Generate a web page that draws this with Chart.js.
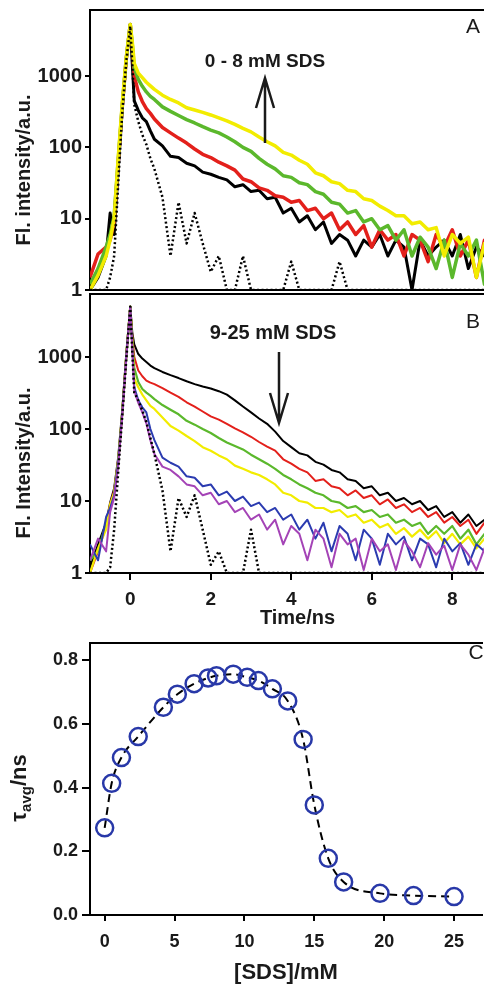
<!DOCTYPE html>
<html>
<head>
<meta charset="utf-8">
<script src="https://cdn.jsdelivr.net/npm/chart.js@4.4.0/dist/chart.umd.min.js"></script>
<style>
html, body { margin: 0; padding: 0; background: #fff; overflow: hidden; }
body { width: 484px; height: 984px; position: relative; }
canvas { position: absolute; left: 0; }
</style>
</head>
<body>
<canvas id="chartB" width="505" height="340" style="top:292px"></canvas>
<canvas id="chartA" width="505" height="300" style="top:0px"></canvas>
<canvas id="chartC" width="493" height="352" style="top:632px"></canvas>
<script>
// time axis shared by the decay curves (ns)
const times = [-1.0,-0.8,-0.6,-0.5,-0.4,-0.3,-0.2,-0.1,
  0,0.05,0.1,0.2,0.3,0.4,0.5,0.6,
  0.8,1.0,1.2,1.4,1.6,1.8,2.0,2.2,2.4,2.6,2.8,3.0,3.2,3.4,3.6,3.8,4.0,4.2,4.4,4.6,
  4.8,5.0,5.2,5.4,5.6,5.8,6.0,6.2,6.4,6.6,6.8,7.0,7.2,7.4,7.6,7.8,8.0,8.2,8.4,8.6,8.8,9.0,9.2];

// panel A : 0 - 8 mM SDS
const irfA = [1,1,1,1.5,3,30,300,1600, 5000,1500,400,230,150,110,70,50,
  20,3,17,4.5,12,4.5,1.8,3,1,1, 3,1,1,1,1,1,2.5,1,1,1, 1,1,2.5,1,1,1,1,1,1,1, 1,1,1,1,1,1,1,1,1,1, 1,1,1];
const blackA = [1,1.5,3,12,6,50,340,1700, 5300,1500,450,330,260,230,170,130,
  105,75,72,60,55,45,42,38,35,28, 30,24,25,19,20,12,14,9,11,7, 9,4.5,6,5,3,5,4,6,3,5, 4,1,5,3,4,5,3,6,2,4, 3,5,2];
const redA = [1.5,3.2,4,5,9,60,360,1700, 5300,2500,1000,600,440,350,300,250,
  190,160,135,115,95,80,72,62,55,48, 36,33,27,25,21,20,17,18,13,14, 10,12,7,9,6,8,4,7,5,6, 3,6,5,2.5,6,4,7,3,5,1.5, 5,3,4];
const greenA = [1.2,2,4,6,11,65,380,1750, 5300,2800,1300,900,720,600,520,470,
  370,320,280,245,220,195,175,160,140,120, 100,88,70,58,50,40,38,32,30,24, 22,17,16,12,13,9,10,7,8,5, 7,3,5.5,4,2,5,1.5,4.5,3,5, 1.2,4,2.5];
const yellowA = [1,1.6,3,5,10,70,400,1800, 5300,3000,1500,1100,950,820,730,650,
  540,470,420,360,335,310,285,260,235,210, 185,165,140,120,105,85,78,66,58,44, 40,33,31,25,24,19,18,15,13,11, 11,8.5,9,7,7.5,3,6,4.5,5.5,1.5, 4.5,2,4];

// panel B : 9 - 25 mM SDS
const irfB = [1,1,1,1.2,4,25,150,900, 5000,1200,320,250,180,125,75,45,
  14,2,11,6,12,4,1.3,2,1,1, 1,4,1,1,1,1,1,1,1,1, 1,1,1,1,1,1,1,1,1,1, 1,1,1,1,1,1,1,1,1,1, 1,1,1];
const blackB = [1.2,2.5,5,9.5,15,40,180,1100, 5000,2200,1500,1100,950,850,760,700,
  620,560,510,460,420,390,365,335,300,250, 205,170,140,118,92,68,56,46,43,35, 32,27,25,20,19,15,16,12,13,10, 11,9,10,7.5,8.5,6,7,5,6.5,4.5, 5.5,4,4.5];
const redB = [1,2,4.5,9,14,38,170,1050, 5000,2000,1000,650,540,470,440,420,
  370,320,280,235,205,175,150,135,118,102, 90,78,66,57,50,38,33,28,25,19, 20,16,15,12,14,11,12,9,10.5,8, 9,7,8,6,7,5,6,4.5,5.5,3.5, 5,3.5,4];
const greenB = [1.5,2,5,8,13,36,165,1000, 5000,1800,700,450,360,320,290,260,
  215,185,160,130,115,100,88,75,65,58, 52,44,38,33,28,23,20,17,15,13, 12,10,9.5,8,8.5,7,7.5,6,6.5,5, 5.5,4.5,5,3.5,4.5,3.5,4.5,3,4,2.5, 3.5,2.5,3];
const yellowB = [1,2.2,4,9,13,35,160,1000, 5000,1500,500,380,300,250,210,190,
  145,110,95,80,68,56,50,43,38,31, 28,25,23,20,17,13,12,10,9.5,8, 8,7,7.5,6,6.5,5,5.5,4.3,4.8,3.5, 4.2,3.2,4,3,3.8,2.6,3.5,2.5,3.2,2.2, 3,2.2,2.8];
const blueB = [2.5,1.5,6,8,12,35,160,1000, 5000,1400,380,250,200,170,100,70,
  40,34,30,22,21,16,17,12,13.5,10, 11.5,8.5,9.5,7,8,5.5,6.5,4,5.5,3, 5,2,4.5,3.5,1.5,4,3,1.3,3.5,2.5, 3.2,1.5,3,2.5,1.2,3,2,2.6,1.3,2.5, 2,2.4,1.5];
const purpleB = [1.5,3,2,7,11,30,150,950, 5000,1300,340,230,170,120,70,45,
  30,27,22,17,16,12,13,9,10,7, 8,5.5,6.5,4,5.5,2.5,4.5,3.5,1.5,4, 3,1.2,3.5,2.5,3,1.1,3,2,2.5,1.1, 2.8,2,1.2,2.6,1.8,2.4,1.1,2.5,1.8,1.1, 2.2,1.6,2];

// panel C : average lifetime vs [SDS]
const sds = [0,0.5,1.2,2.4,4.2,5.2,6.4,7.4,8,9.2,10.2,11,12,13.1,14.2,15,16,17.1,19.7,22.1,25];
const tau = [0.274,0.414,0.495,0.561,0.653,0.694,0.727,0.745,0.752,0.757,0.747,0.737,0.711,0.673,0.552,0.346,0.178,0.104,0.068,0.061,0.058];

const logTicks = [1,10,100,1000];
const timeTicks = [0,2,4,6,8];
const sdsTicks = [0,5,10,15,20,25];
const tauTicks = [0,0.2,0.4,0.6,0.8];

const FONT = '"Liberation Sans", Arial, sans-serif';
Chart.defaults.font.family = FONT;
Chart.defaults.color = '#1a1a1a';

function series(vals) { return times.map((t, i) => ({ x: t, y: vals[i] })); }
function fixTicks(list) { return function (scale) { scale.ticks = list.map(v => ({ value: v })); }; }

// force an axis box size and drop the label overflow padding chart.js adds
function size(w, h) {
  return function (s) {
    if (w !== null) s.width = w;
    if (h !== null) s.height = h;
    s.paddingTop = 0; s.paddingBottom = 0; s.paddingLeft = 0; s.paddingRight = 0;
  };
}

function curve(vals, color, width, dash) {
  return { data: series(vals), borderColor: color, borderWidth: width, borderDash: dash || [],
    borderJoinStyle: 'round', pointRadius: 0, tension: 0, fill: false };
}

function topAxis(h) {
  return { type: 'linear', position: 'top', axis: 'x', display: true,
    ticks: { display: false }, grid: { display: false },
    border: { display: true, color: '#000', width: 2 },
    afterFit: size(null, h) };
}

function logAxis(max) {
  return { type: 'logarithmic', min: 1, max: max,
    afterBuildTicks: fixTicks(logTicks),
    ticks: { callback: v => String(v), font: { size: 20, weight: 'bold' }, padding: 3 },
    grid: { drawOnChartArea: false, color: '#000', lineWidth: 2, tickLength: 5 },
    border: { color: '#000', width: 2 },
    afterFit: size(90, null) };
}

function yTitle(c, text, x, y) {
  c.save();
  c.translate(x, y);
  c.rotate(-Math.PI / 2);
  c.font = 'bold 20px ' + FONT;
  c.fillStyle = '#1a1a1a';
  c.textAlign = 'center';
  c.textBaseline = 'middle';
  c.fillText(text, 0, 0);
  c.restore();
}

function label(c, text, x, y, font) {
  c.save();
  c.font = font;
  c.fillStyle = '#1a1a1a';
  c.textAlign = 'center';
  c.textBaseline = 'middle';
  c.fillText(text, x, y);
  c.restore();
}

// vertical arrow, head at yHead
function arrow(c, x, yTail, yHead) {
  const dir = yHead < yTail ? 1 : -1;
  c.save();
  c.strokeStyle = '#1a1a1a';
  c.lineWidth = 2.5;
  c.beginPath();
  c.moveTo(x, yTail);
  c.lineTo(x, yHead);
  c.moveTo(x - 9, yHead + dir * 30);
  c.lineTo(x, yHead);
  c.lineTo(x + 9, yHead + dir * 30);
  c.stroke();
  c.restore();
}

const textA = { id: 'textA', afterDraw(chart) {
  const c = chart.ctx;
  yTitle(c, 'Fl. intensity/a.u.', 24, 170);
  label(c, '0 - 8 mM SDS', 265, 62, 'bold 19px ' + FONT);
  arrow(c, 265, 143, 78);
  label(c, 'A', 473, 27, '21px ' + FONT);
} };

const textB = { id: 'textB', afterDraw(chart) {
  const c = chart.ctx;
  yTitle(c, 'Fl. Intensity/a.u.', 24, 171);
  label(c, '9-25 mM SDS', 273, 41, 'bold 20px ' + FONT);
  arrow(c, 279, 60, 131);
  label(c, 'B', 473, 30, '21px ' + FONT);
} };

const textC = { id: 'textC', afterDraw(chart) {
  const c = chart.ctx;
  const big = 'bold 22px ' + FONT, small = 'bold 15px ' + FONT;
  c.save();
  c.translate(18, 156);
  c.rotate(-Math.PI / 2);
  c.fillStyle = '#1a1a1a';
  c.textAlign = 'left';
  c.textBaseline = 'alphabetic';
  c.font = big;
  const w1 = c.measureText('τ').width, w3 = c.measureText('/ns').width;
  c.font = small;
  const w2 = c.measureText('avg').width;
  const x0 = -(w1 + w2 + w3) / 2;
  c.font = big; c.fillText('τ', x0, 8);
  c.font = small; c.fillText('avg', x0 + w1, 13);
  c.font = big; c.fillText('/ns', x0 + w1 + w2, 8);
  c.restore();
  label(c, 'C', 476, 21, '21px ' + FONT);
} };

const base = { responsive: false, animation: false, devicePixelRatio: 1,
  layout: { padding: 0 },
  plugins: { legend: { display: false }, tooltip: { enabled: false } } };

new Chart(document.getElementById('chartA'), {
  type: 'line',
  data: { datasets: [
    curve(irfA, '#000', 2.5, [2, 2.5]),
    curve(yellowA, '#f2ec00', 3.5),
    curve(greenA, '#5bb82c', 3.5),
    curve(redA, '#e3201b', 3.5),
    curve(blackA, '#000', 3)
  ] },
  options: Object.assign({}, base, { scales: {
    x: { type: 'linear', min: -1, max: 9.31, ticks: { display: false }, grid: { display: false },
      border: { color: '#000', width: 2 }, afterFit: size(null, 10) },
    x2: topAxis(10),
    y: logAxis(8450)
  } }),
  plugins: [textA]
});

new Chart(document.getElementById('chartB'), {
  type: 'line',
  data: { datasets: [
    curve(irfB, '#000', 2.5, [2, 2.5]),
    curve(purpleB, '#a443b6', 2),
    curve(blueB, '#2b3bb0', 2),
    curve(yellowB, '#f2ec00', 2.2),
    curve(greenB, '#5bb82c', 2.2),
    curve(redB, '#e3201b', 2),
    curve(blackB, '#000', 2)
  ] },
  options: Object.assign({}, base, { scales: {
    x: { type: 'linear', min: -1, max: 9.31, afterBuildTicks: fixTicks(timeTicks),
      ticks: { font: { size: 19, weight: 'bold' }, padding: 8 },
      grid: { drawOnChartArea: false, color: '#000', lineWidth: 2, tickLength: 7 },
      border: { color: '#000', width: 2 },
      title: { display: true, text: 'Time/ns', font: { size: 20, weight: 'bold' }, padding: { top: 0, bottom: 2 } },
      afterFit: size(null, 59) },
    x2: topAxis(2),
    y: logAxis(7500)
  } }),
  plugins: [textB]
});

new Chart(document.getElementById('chartC'), {
  type: 'scatter',
  data: { datasets: [{
    data: sds.map((s, i) => ({ x: s, y: tau[i] })),
    showLine: true, borderColor: '#000', borderWidth: 2, borderDash: [8, 5],
    cubicInterpolationMode: 'monotone',
    pointRadius: 8.5, pointBorderWidth: 2.5, pointBorderColor: '#2838a8',
    pointBackgroundColor: 'rgba(0,0,0,0)'
  }] },
  options: Object.assign({}, base, { scales: {
    x: { type: 'linear', min: -1.05, max: 27, afterBuildTicks: fixTicks(sdsTicks),
      ticks: { font: { size: 18, weight: 'bold' }, padding: 10 },
      grid: { drawOnChartArea: false, color: '#000', lineWidth: 2, tickLength: 6 },
      border: { color: '#000', width: 2 },
      title: { display: true, text: '[SDS]/mM', font: { size: 22, weight: 'bold', lineHeight: 1 }, padding: { top: 0, bottom: 0 } },
      afterFit: size(null, 69) },
    x2: topAxis(3),
    y: { type: 'linear', min: 0, max: 0.855, afterBuildTicks: fixTicks(tauTicks),
      ticks: { callback: v => v.toFixed(1), font: { size: 18, weight: 'bold' }, padding: 4 },
      grid: { drawOnChartArea: false, color: '#000', lineWidth: 2, tickLength: 8 },
      border: { color: '#000', width: 2 },
      afterFit: size(90, null) }
  } }),
  plugins: [textC]
});
</script>
</body>
</html>
